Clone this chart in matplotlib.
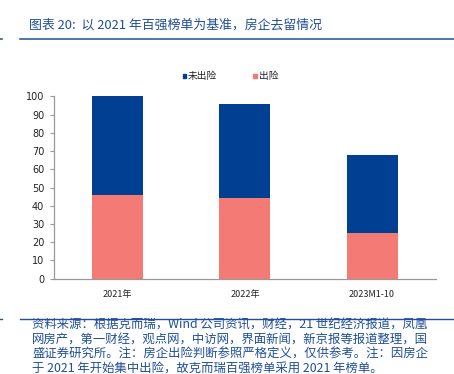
import matplotlib
matplotlib.use("Agg")
import matplotlib.pyplot as plt
from matplotlib.lines import Line2D
from matplotlib.patches import Rectangle

plt.rcParams['font.family'] = ['Noto Sans CJK SC', 'DejaVu Sans']

categories = ["2021年", "2022年", "2023M1-10"]
risk = [46, 44, 25]          # 出险
no_risk = [54, 52, 43]       # 未出险
yticks = list(range(0, 101, 10))

BLUE = "#003F91"
SALMON = "#F47A76"
TXT = "#1F4E9A"

W, H = 454, 374
fig = plt.figure(figsize=(W / 100, H / 100), dpi=100)

ax = fig.add_axes([54 / W, (H - 278.7) / H, (435.7 - 54) / W, (278.7 - 96.3) / H])
x = range(len(categories))
ax.bar(x, risk, width=0.4, color=SALMON, label="出险", zorder=2)
ax.bar(x, no_risk, bottom=risk, width=0.4, color=BLUE, label="未出险", zorder=2)
ax.set_xlim(-0.5, 2.5)
ax.set_ylim(0, 100)
ax.set_yticks(yticks)
ax.set_yticklabels([str(v) for v in yticks], fontsize=7, family='DejaVu Sans', color='#222222')
ax.set_xticks(list(x))
ax.set_xticklabels(categories, fontsize=6.5, color='#222222')
ax.tick_params(axis='x', length=0, pad=8)
ax.tick_params(axis='y', length=3, width=0.8, color='#999999', pad=4)
for s in ['top', 'right']:
    ax.spines[s].set_visible(False)
for s in ['left', 'bottom']:
    ax.spines[s].set_color('#999999')
    ax.spines[s].set_linewidth(0.9)

# legend (manual placement)
fig.patches.append(Rectangle((182.5 / W, (H - 77.5) / H), 3.5 / W, 3.5 / H,
                             transform=fig.transFigure, color=BLUE))
fig.text(188 / W, (H - 75.5) / H, "未出险", fontsize=7, va='center', ha='left', color='#222222')
fig.patches.append(Rectangle((253.5 / W, (H - 77.5) / H), 3.5 / W, 3.5 / H,
                             transform=fig.transFigure, color=SALMON))
fig.text(259 / W, (H - 75.5) / H, "出险", fontsize=7, va='center', ha='left', color='#222222')

# title
fig.text(29 / W, (H - 25) / H, "图表 20:  以 2021 年百强榜单为基准，房企去留情况",
         fontsize=9.3, style='italic', color=TXT, va='center', ha='left')
fig.add_artist(Line2D([20 / W, 1.0], [(H - 39) / H] * 2, transform=fig.transFigure,
                      color=TXT, lw=1.1))
fig.add_artist(Line2D([0, 2 / W], [(H - 39) / H] * 2, transform=fig.transFigure,
                      color=TXT, lw=1.1))

# footer
fig.add_artist(Line2D([20 / W, 1.0], [(H - 319) / H] * 2, transform=fig.transFigure,
                      color=TXT, lw=1.0))
fig.add_artist(Line2D([0, 2 / W], [(H - 319) / H] * 2, transform=fig.transFigure,
                      color=TXT, lw=1.0))
footer = ["资料来源：根据克而瑞，Wind 公司资讯，财经，21 世纪经济报道，凤凰",
          "网房产，第一财经，观点网，中访网，界面新闻，新京报等报道整理，国",
          "盛证券研究所。注：房企出险判断参照严格定义，仅供参考。注：因房企",
          "于 2021 年开始集中出险，故克而瑞百强榜单采用 2021 年榜单。"]
for i, line in enumerate(footer):
    fig.text(32 / W, (H - (325 + 14.5 * i)) / H, line, fontsize=8.9, style='italic',
             color=TXT, va='center', ha='left')

fig.savefig("out.png", dpi=100)
